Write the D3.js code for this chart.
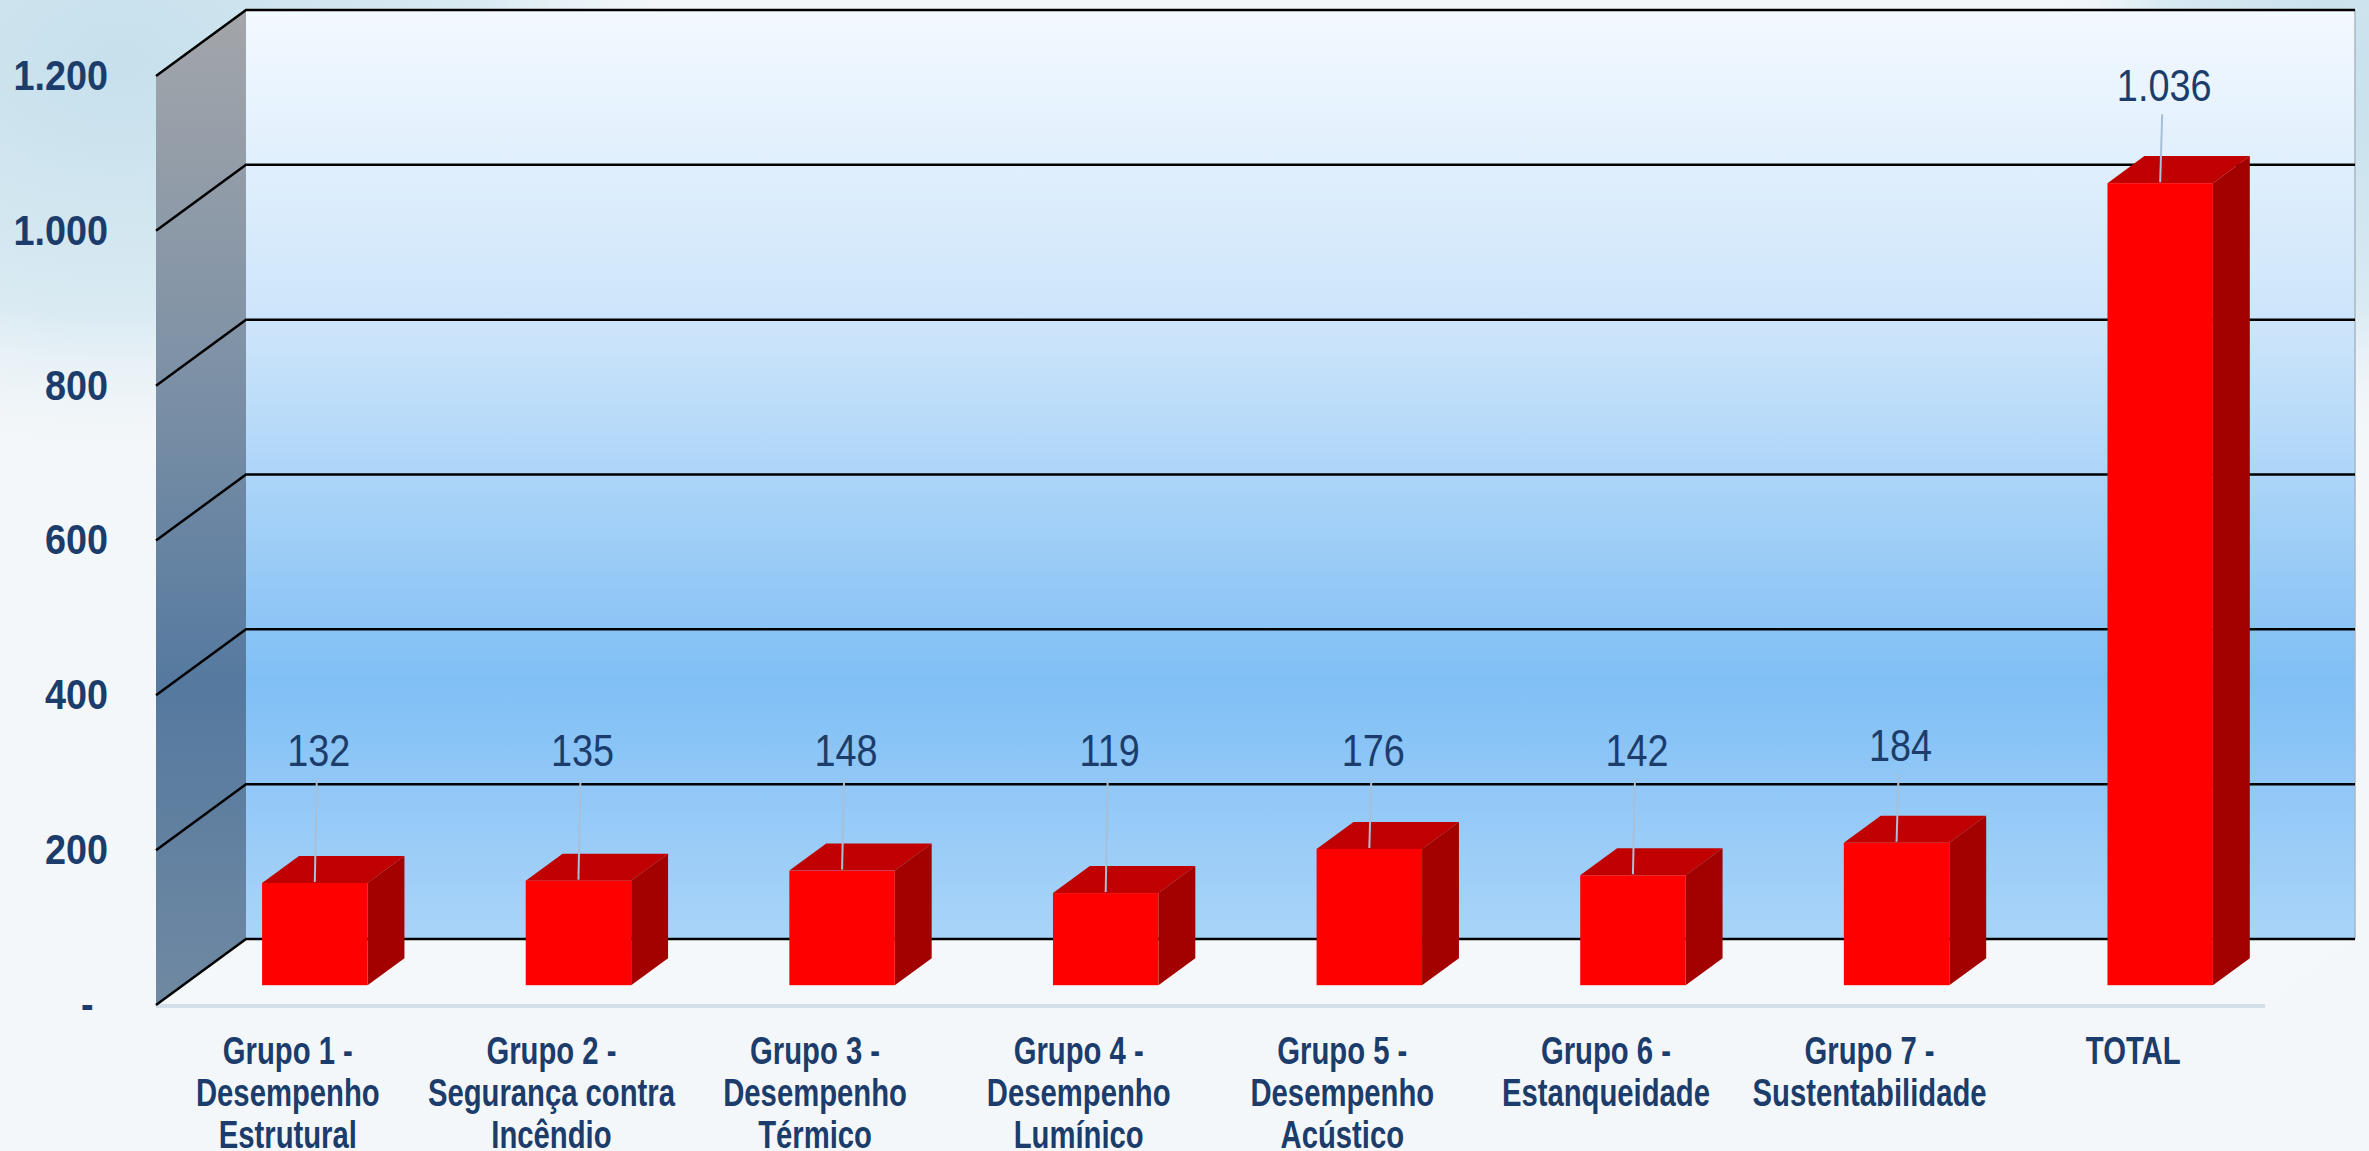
<!DOCTYPE html>
<html>
<head>
<meta charset="utf-8">
<script src="https://cdn.jsdelivr.net/npm/d3@7/dist/d3.min.js"></script>
<style>
  html, body { margin: 0; padding: 0; overflow: hidden; background: #f4f7fa; }
  text { font-family: "Liberation Sans Narrow", "Arial Narrow", "Liberation Sans", sans-serif; fill: #1c3d6b; }
</style>
</head>
<body>
<div id="chart"></div>
<script>
// category labels, already split in lines like the original
const categoryLines = [
  ["Grupo 1 -", "Desempenho", "Estrutural"],
  ["Grupo 2 -", "Segurança contra", "Incêndio"],
  ["Grupo 3 -", "Desempenho", "Térmico"],
  ["Grupo 4 -", "Desempenho", "Lumínico"],
  ["Grupo 5 -", "Desempenho", "Acústico"],
  ["Grupo 6 -", "Estanqueidade"],
  ["Grupo 7 -", "Sustentabilidade"],
  ["TOTAL"]
]
const categories = categoryLines.map(l => l.join(" "))
const values = [132, 135, 148, 119, 176, 142, 184, 1036]
const yTicks = [0, 200, 400, 600, 800, 1000, 1200]

const width = 2369, height = 1151
const origin = {x: 156, y: 1005}   // front left corner of the floor
const depthX = 90, depthY = 66      // 3d depth of the floor
const floorWidth = 2109, wallHeight = 929
const barD0 = 0.3, barD1 = 0.71     // bar position in depth (0 = front, 1 = back wall)

const x = d3.scaleBand()
            .domain(categories)
            .range([0, floorWidth])
            .paddingInner(0.6)
            .paddingOuter(0.3)
const y = d3.scaleLinear()
            .domain([0, 1200])
            .range([0, wallHeight])

const project = (px, v, d) => [origin.x + px + d * depthX, origin.y - y(v) - d * depthY]
const poly = pts => pts.map(p => p.join(",")).join(" ")

const svg = d3.select("#chart")
              .append("svg")
              .attr("width", width)
              .attr("height", height)

const defs = svg.append("defs")
const bgGlow = defs.append("radialGradient").attr("id", "bgGlow")
bgGlow.append("stop").attr("offset", "0%").attr("stop-color", "#c6e0ec")
bgGlow.append("stop").attr("offset", "60%").attr("stop-color", "#d9eaf2")
bgGlow.append("stop").attr("offset", "100%").attr("stop-color", "#f4f7fa").attr("stop-opacity", 0)

const backGrad = defs.append("linearGradient").attr("id", "backWall")
                     .attr("x1", 0).attr("y1", 0).attr("x2", 0).attr("y2", 1)
backGrad.append("stop").attr("offset", "0%").attr("stop-color", "#f3f9ff")
backGrad.append("stop").attr("offset", "35%").attr("stop-color", "#cbe4fa")
backGrad.append("stop").attr("offset", "72%").attr("stop-color", "#80bff5")
backGrad.append("stop").attr("offset", "100%").attr("stop-color", "#a9d4f9")

const sideGrad = defs.append("linearGradient").attr("id", "sideWall")
                     .attr("x1", 0).attr("y1", 0).attr("x2", 0).attr("y2", 1)
sideGrad.append("stop").attr("offset", "0%").attr("stop-color", "#a3a6aa")
sideGrad.append("stop").attr("offset", "35%").attr("stop-color", "#7f92a6")
sideGrad.append("stop").attr("offset", "68%").attr("stop-color", "#55799f")
sideGrad.append("stop").attr("offset", "100%").attr("stop-color", "#7089a2")

// background
svg.append("rect").attr("width", width).attr("height", height).attr("fill", "#f4f7fa")
svg.append("ellipse").attr("cx", 120).attr("cy", 60).attr("rx", 620).attr("ry", 420)
   .attr("fill", "url(#bgGlow)")
svg.append("ellipse").attr("cx", 2330).attr("cy", 80).attr("rx", 300).attr("ry", 380)
   .attr("fill", "url(#bgGlow)")

// walls and floor
svg.append("polygon")
   .attr("points", poly([project(0, 0, 0), project(0, 1200, 0), project(0, 1200, 1), project(0, 0, 1)]))
   .attr("fill", "url(#sideWall)")
const backTL = project(0, 1200, 1), backBR = project(floorWidth, 0, 1)
svg.append("rect")
   .attr("x", backTL[0]).attr("y", backTL[1])
   .attr("width", backBR[0] - backTL[0]).attr("height", backBR[1] - backTL[1])
   .attr("fill", "url(#backWall)")
svg.append("line")
   .attr("x1", backBR[0]).attr("y1", backTL[1]).attr("x2", backBR[0]).attr("y2", backBR[1])
   .attr("stroke", "#aab6c2").attr("stroke-width", 1.5)
svg.append("polygon")
   .attr("points", poly([project(0, 0, 0), project(floorWidth, 0, 0), project(floorWidth, 0, 1), project(0, 0, 1)]))
   .attr("fill", "#f5f8fa")
const fl0 = project(0, 0, 0), fl1 = project(floorWidth, 0, 0)
svg.append("line")
   .attr("x1", fl0[0]).attr("y1", fl0[1] + 1).attr("x2", fl1[0]).attr("y2", fl1[1] + 1)
   .attr("stroke", "#d3dfea").attr("stroke-width", 4)

// gridlines on side and back wall
svg.append("g")
   .selectAll("polyline")
   .data(yTicks)
   .join("polyline")
   .attr("points", t => poly([project(0, t, 0), project(0, t, 1), project(floorWidth, t, 1)]))
   .attr("fill", "none")
   .attr("stroke", "#000")
   .attr("stroke-width", 2.5)

// y axis
const fmt = d3.formatLocale({decimal: ",", thousands: ".", grouping: [3], currency: ["", ""]}).format(",d")
const yAxisScale = d3.scaleLinear().domain([0, 1200]).range([origin.y, origin.y - wallHeight])
const yAxis = d3.axisLeft(yAxisScale)
                .tickValues(yTicks)
                .tickSize(0)
                .tickPadding(0)
                .tickFormat(v => v === 0 ? "-" : fmt(v))
const yG = svg.append("g")
              .attr("transform", "translate(108,0)")
              .call(yAxis)
yG.select(".domain").remove()
yG.selectAll("text")
  .attr("font-family", null)
  .attr("transform", "scale(0.9,1)")
  .style("font-size", "42px")
  .style("font-weight", "bold")
  .attr("dx", v => v === 0 ? -16 : 0)

// bars
const bars = svg.append("g")
                .selectAll("g")
                .data(values)
                .join("g")
bars.each(function (v, i) {
  const g = d3.select(this)
  const x0 = x(categories[i]), x1 = x0 + x.bandwidth()
  g.append("polygon")
   .attr("points", poly([project(x0, v, barD0), project(x1, v, barD0), project(x1, v, barD1), project(x0, v, barD1)]))
   .attr("fill", "#c00000")
  g.append("polygon")
   .attr("points", poly([project(x1, 0, barD0), project(x1, v, barD0), project(x1, v, barD1), project(x1, 0, barD1)]))
   .attr("fill", "#a30000")
  const tl = project(x0, v, barD0), br = project(x1, 0, barD0)
  g.append("rect")
   .attr("x", tl[0]).attr("y", tl[1])
   .attr("width", br[0] - tl[0]).attr("height", br[1] - tl[1])
   .attr("fill", "#ff0000")
})

// value labels with leader lines
const labels = svg.append("g")
                  .selectAll("g")
                  .data(values)
                  .join("g")
labels.each(function (v, i) {
  const g = d3.select(this)
  const top = project(x(categories[i]) + x.bandwidth() / 2, v, barD0)
  const baseline = Math.min(766, top[1] - 82)
  g.append("line")
   .attr("x1", top[0] + 2).attr("y1", baseline + 13)
   .attr("x2", top[0]).attr("y2", top[1] - 1)
   .attr("stroke", "#a8bfd8").attr("stroke-width", 2)
  g.append("text")
   .attr("transform", "translate(" + (top[0] + 4) + "," + baseline + ") scale(0.86,1)")
   .attr("text-anchor", "middle")
   .style("font-size", "44px")
   .text(fmt(v))
})

// category labels
const catG = svg.append("g")
                .selectAll("text")
                .data(categoryLines)
                .join("text")
                .attr("transform", (d, i) => "translate(" + (origin.x + x(categories[i]) + x.bandwidth() / 2) + ",1064) scale(0.77,1)")
                .attr("text-anchor", "middle")
                .style("font-size", "38px")
                .style("font-weight", "bold")
catG.selectAll("tspan")
    .data(d => d)
    .join("tspan")
    .attr("x", 0)
    .attr("y", (d, j) => j * 42)
    .text(d => d)
</script>
</body>
</html>
